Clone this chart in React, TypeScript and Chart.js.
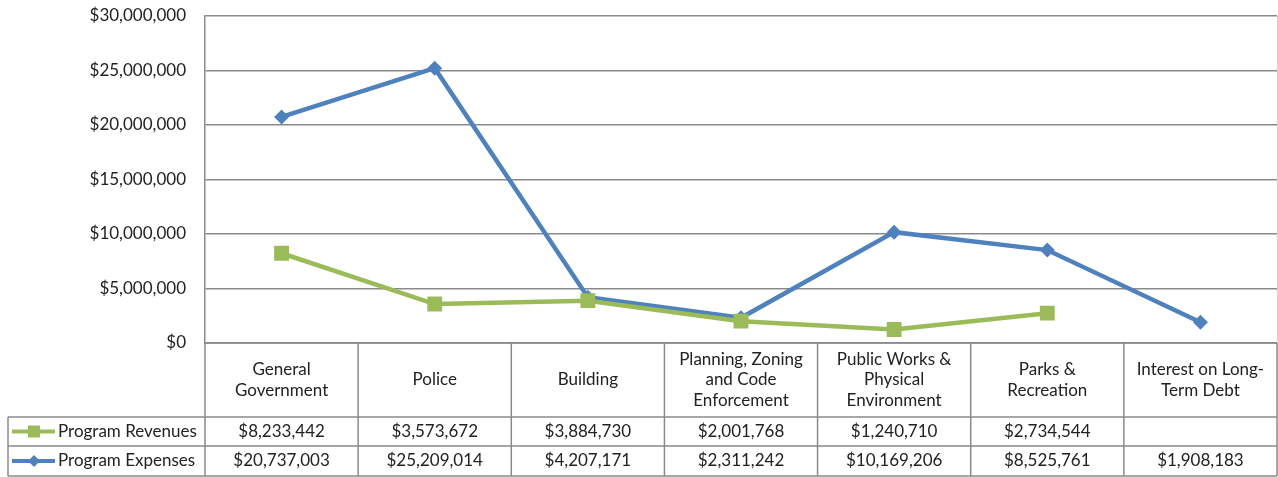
import React, { useEffect, useRef } from "react";
import { Chart, registerables } from "chart.js";

Chart.register(...registerables);

const categories: string[][] = [
  ["General", "Government"],
  ["Police"],
  ["Building"],
  ["Planning, Zoning", "and Code", "Enforcement"],
  ["Public Works &", "Physical", "Environment"],
  ["Parks &", "Recreation"],
  ["Interest on Long-", "Term Debt"],
];
const revenues: (number | null)[] = [8233442, 3573672, 3884730, 2001768, 1240710, 2734544, null];
const expenses: (number | null)[] = [20737003, 25209014, 4207171, 2311242, 10169206, 8525761, 1908183];
const seriesNames = ["Program Revenues", "Program Expenses"];
const yTicks = [0, 5000000, 10000000, 15000000, 20000000, 25000000, 30000000];

const GREEN = "#9BBB59";
const BLUE = "#4F81BD";
const GRID = "#8a8a8a";
const TEXT = "#222222";
const FONT = "Lato, 'Liberation Sans', sans-serif";

const AREA = { left: 205, top: 16, right: 1277, bottom: 343 };

const fmt = (v: number) => "$" + v.toLocaleString("en-US");

const tablePlugin = {
  id: "dataTable",
  afterDraw(chart: any) {
    const ctx = chart.ctx as CanvasRenderingContext2D;
    const area = chart.chartArea;
    const xs = chart.scales.x;
    const n = categories.length;
    const w = (area.right - area.left) / n;
    const top = area.bottom;
    const r1 = top + 74;
    const r2 = r1 + 29;
    const r3 = r2 + 30;
    const leftX = 8;
    ctx.save();
    ctx.strokeStyle = GRID;
    ctx.lineWidth = 1.5;
    const hline = (x0: number, x1: number, y: number) => {
      ctx.beginPath();
      ctx.moveTo(x0, y);
      ctx.lineTo(x1, y);
      ctx.stroke();
    };
    const vline = (x: number, y0: number, y1: number) => {
      ctx.beginPath();
      ctx.moveTo(x, y0);
      ctx.lineTo(x, y1);
      ctx.stroke();
    };
    hline(area.left, area.right, top);
    hline(leftX, area.right, r1);
    hline(leftX, area.right, r2);
    hline(leftX, area.right, r3);
    for (let i = 0; i <= n; i++) {
      const x = area.left + i * w;
      vline(x, top, r3);
    }
    vline(leftX, r1, r3);

    ctx.fillStyle = TEXT;
    ctx.font = `17px ${FONT}`;
    ctx.textAlign = "center";
    ctx.textBaseline = "middle";
    const lh = 20.5;
    const cy = (top + r1) / 2;
    categories.forEach((lines, i) => {
      const cx = xs.getPixelForValue(i);
      const y0 = cy - ((lines.length - 1) * lh) / 2;
      lines.forEach((l, j) => ctx.fillText(l, cx, y0 + j * lh));
    });
    const rowY = [(r1 + r2) / 2, (r2 + r3) / 2];
    const data = [revenues, expenses];
    data.forEach((arr, k) => {
      arr.forEach((v, i) => {
        if (v == null) return;
        ctx.fillText(fmt(v), xs.getPixelForValue(i), rowY[k]);
      });
    });
    const colors = [GREEN, BLUE];
    colors.forEach((c, k) => {
      const y = rowY[k];
      ctx.strokeStyle = c;
      ctx.lineWidth = 4;
      hline(12, 55, y);
      ctx.fillStyle = c;
      if (k === 0) {
        ctx.fillRect(28, y - 6, 12, 12);
      } else {
        ctx.beginPath();
        ctx.moveTo(34, y - 6);
        ctx.lineTo(40, y);
        ctx.lineTo(34, y + 6);
        ctx.lineTo(28, y);
        ctx.closePath();
        ctx.fill();
      }
      ctx.fillStyle = TEXT;
      ctx.textAlign = "left";
      ctx.fillText(seriesNames[k], 58, y);
      ctx.textAlign = "center";
    });
    ctx.restore();
  },
};

export default function App() {
  const ref = useRef<HTMLCanvasElement | null>(null);
  useEffect(() => {
    if (!ref.current) return;
    const padding = { left: 0, top: AREA.top, right: 1278 - AREA.right, bottom: 477 - AREA.bottom };
    const chart = new Chart(ref.current, {
      type: "line",
      data: {
        labels: categories.map((c) => c.join(" ")),
        datasets: [
          {
            label: seriesNames[0],
            data: revenues,
            borderColor: GREEN,
            backgroundColor: GREEN,
            borderWidth: 4.5,
            pointStyle: "rect",
            pointRadius: 10.5,
            pointBorderWidth: 0,
            tension: 0,
          },
          {
            label: seriesNames[1],
            data: expenses,
            borderColor: BLUE,
            backgroundColor: BLUE,
            borderWidth: 4.5,
            pointStyle: "rectRot",
            pointRadius: 7.5,
            pointBorderWidth: 0,
            tension: 0,
          },
        ],
      },
      options: {
        animation: false,
        responsive: false,
        maintainAspectRatio: false,
        layout: { padding, autoPadding: false },
        plugins: { legend: { display: false }, tooltip: { enabled: false } },
        scales: {
          x: {
            type: "category",
            display: false,
            offset: true,
          },
          y: {
            min: 0,
            max: 30000000,
            afterFit: (s: any) => {
              s.width = AREA.left;
              s.paddingTop = 0;
              s.paddingBottom = 0;
            },
            afterBuildTicks: (s: any) => {
              s.ticks = yTicks.map((v) => ({ value: v }));
            },
            border: { display: true, color: GRID, width: 1.5 },
            grid: { color: GRID, lineWidth: 1.5, drawTicks: false },
            ticks: {
              padding: 19,
              color: TEXT,
              font: { family: FONT, size: 17 },
              callback: (v: any) => fmt(Number(v)),
            },
          },
        },
      },
      plugins: [
        tablePlugin,
        {
          id: "rightBorder",
          afterDraw(chart: any) {
            const { ctx, chartArea: a } = chart;
            ctx.save();
            ctx.strokeStyle = "#d0d0d0";
            ctx.lineWidth = 1;
            ctx.beginPath();
            ctx.moveTo(a.right + 0.5, a.top);
            ctx.lineTo(a.right + 0.5, a.bottom);
            ctx.stroke();
            ctx.restore();
          },
        },
      ],
    } as any);
    for (let iter = 0; iter < 3; iter++) {
      const a = chart.chartArea;
      const dTop = a.top - AREA.top;
      const dRight = AREA.right - a.right;
      const dBottom = AREA.bottom - a.bottom;
      if (Math.abs(dTop) < 0.5 && Math.abs(dRight) < 0.5 && Math.abs(dBottom) < 0.5) break;
      padding.top -= dTop;
      padding.right -= dRight;
      padding.bottom -= dBottom;
      (chart.options as any).layout.padding = { ...padding };
      chart.update();
    }
    return () => chart.destroy();
  }, []);
  return (
    <div style={{ position: "absolute", left: 0, top: 0, width: 1278, height: 477, background: "#fff" }}>
      <canvas ref={ref} width={1278} height={477} style={{ display: "block" }} />
    </div>
  );
}
